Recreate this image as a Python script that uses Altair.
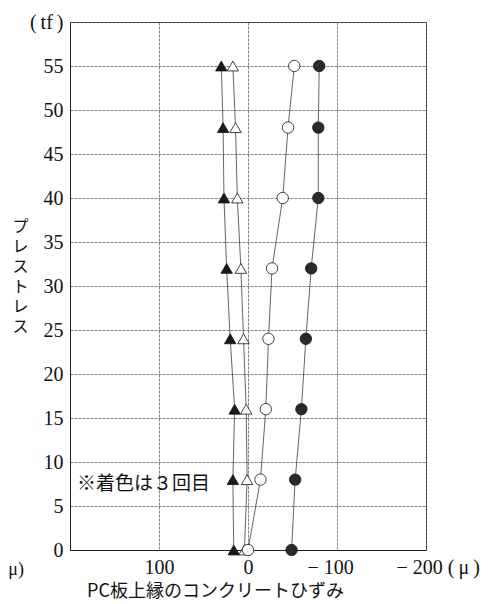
import altair as alt
import pandas as pd

# Prestress load levels (tf)
loads = [0, 8, 16, 24, 32, 40, 48, 55]
# Strain at PC slab top edge (micro)
filled_circle = [-49, -53, -60, -65, -71, -79, -79, -80]
open_circle = [0, -14, -20, -23, -27, -39, -45, -52]
open_triangle = [4, 1, 2, 5, 8, 12, 14, 17]
filled_triangle = [16, 17, 15, 20, 24, 27, 28, 30]

series_names = ["filled_triangle", "open_triangle", "open_circle", "filled_circle"]
series_values = [filled_triangle, open_triangle, open_circle, filled_circle]

rows = []
for name, vals in zip(series_names, series_values):
    for ld, v in zip(loads, vals):
        rows.append({"series": name, "load": ld, "strain": v})
df = pd.DataFrame(rows)

x_ticks = [100, 0, -100, -200]
y_ticks = list(range(0, 65, 5))

note_df = pd.DataFrame({"strain": [192], "load": [7.5], "text": ["※着色は３回目"]})

SERIF = "Liberation Serif, Times New Roman, DejaVu Serif, serif"
JP = "Noto Sans CJK JP, sans-serif"

xenc = alt.X(
    "strain:Q",
    scale=alt.Scale(domain=[200, -200], nice=False),
    axis=alt.Axis(
        values=x_ticks,
        title="PC板上縁のコンクリートひずみ",
        titleFont=JP,
        titleFontSize=18,
        titleFontWeight="normal",
        titleColor="#111",
        titleX=145,
        titleY=41,
        titleAlign="center",
        titleBaseline="middle",
        labelFont=SERIF,
        labelFontSize=20,
        labelColor="#111",
        labelPadding=7,
        labelFlush=False,
        labelExpr="datum.value == -200 ? '− 200 (\u2009μ\u2009)' : (datum.value < 0 ? '− ' + format(-datum.value, 'd') : datum.label)",
        labelAlign={"condition": {"test": "datum.value < 0", "value": "left"}, "value": "center"},
        labelOffset={"condition": {"test": "datum.value < 0", "value": -30}, "value": 0},
        ticks=False,
        grid=True,
        domain=True,
    ),
)
yenc = alt.Y(
    "load:Q",
    scale=alt.Scale(domain=[0, 60], nice=False),
    axis=alt.Axis(
        values=y_ticks,
        title=["プ", "レ", "ス", "ト", "レ", "ス"],
        titleAngle=0,
        titleFont=JP,
        titleFontSize=16,
        titleFontWeight="normal",
        titleColor="#111",
        titleLineHeight=20,
        titleX=-50,
        titleY=196,
        titleAlign="center",
        titleBaseline="top",
        labelFont=SERIF,
        labelFontSize=20,
        labelColor="#111",
        labelPadding=7,
        labelFlush=False,
        labelExpr="datum.value == 60 ? '(\u2009tf\u2009)' : datum.label",
        ticks=False,
        grid=True,
        domain=True,
    ),
)

lines = alt.Chart(df).mark_line(color="#222", strokeWidth=0.7).encode(
    x=xenc, y=yenc, detail="series:N", order="load:Q"
)

points = alt.Chart(df).mark_point(filled=True, stroke="#111", strokeWidth=0.8, opacity=1).encode(
    x=xenc,
    y=yenc,
    shape=alt.Shape("series:N", scale=alt.Scale(domain=series_names,
                    range=["triangle-up", "triangle-up", "circle", "circle"]), legend=None),
    fill=alt.Fill("series:N", scale=alt.Scale(domain=series_names,
                  range=["#1a1a1a", "white", "white", "#2a2a2a"]), legend=None),
    size=alt.Size("series:N", scale=alt.Scale(domain=series_names,
                  range=[130, 130, 65, 40]), legend=None),
)

note = alt.Chart(note_df).mark_text(
    font=JP, fontSize=19, align="left", baseline="middle", color="#111"
).encode(x="strain:Q", y="load:Q", text="text:N")

frag = alt.Chart(pd.DataFrame({"t": ["μ)"]})).mark_text(
    font=SERIF, fontSize=18, align="right", baseline="middle", color="#111"
).encode(x=alt.value(-46), y=alt.value(548), text="t:N")

chart = alt.layer(lines, points, note, frag).properties(
    width=356,
    height=528,
    autosize=alt.AutoSizeParams(type="none"),
    padding={"left": 62, "top": 14, "right": 58, "bottom": 54},
).configure_view(stroke="#222", strokeWidth=1).configure_axis(
    gridColor="#666", gridWidth=0.8, gridDash=[3, 1], domainColor="#222", domainWidth=1
)

chart.save("out.html", embed_options={"renderer": "svg", "actions": False})
